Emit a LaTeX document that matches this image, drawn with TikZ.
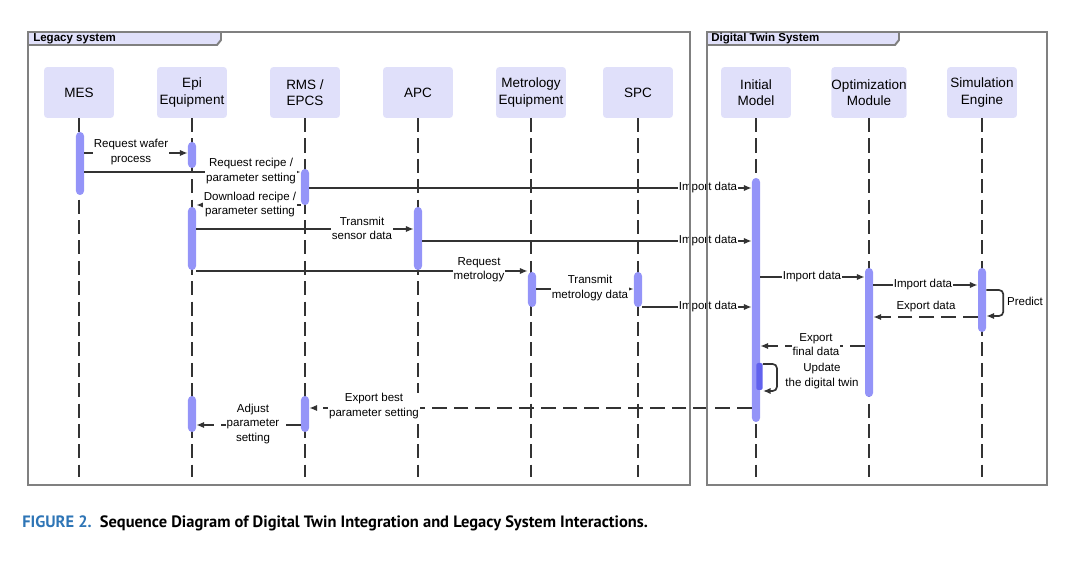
\documentclass[tikz,border=0pt]{standalone}
\usepackage{fontspec}
\setmainfont{Liberation Sans}
\newfontfamily\capfont{PT Sans}
\usepackage{tikz}
\usetikzlibrary{positioning,calc,arrows.meta,fit}
\usepackage{xcolor}
\definecolor{headfill}{RGB}{224,224,250}
\definecolor{barfill}{RGB}{148,148,248}
\definecolor{bardark}{RGB}{98,98,238}
\definecolor{linegray}{RGB}{51,51,51}
\definecolor{framegray}{RGB}{128,128,128}
\definecolor{capblue}{RGB}{46,117,182}

\begin{document}
\begin{tikzpicture}[x=0.025cm,y=-0.025cm,
    head/.style={fill=headfill,rounded corners=2pt,minimum width=49.5pt,minimum height=36pt,
        inner sep=0pt,align=center,font=\fontsize{9.6}{11.5}\selectfont},
    life/.style={draw=linegray,line width=1.2pt,dash pattern=on 10pt off 4.5pt},
    bar/.style={fill=barfill,inner sep=0pt,minimum width=5.7pt,rounded corners=2.8pt},
    msg/.style={draw=linegray,line width=1.2pt,-{Latex[length=5.5pt,width=4.5pt]}},
    ret/.style={msg,dash pattern=on 10.5pt off 5pt},
    lbl/.style={fill=white,inner sep=0.6pt,align=center,font=\fontsize{8.2}{10}\selectfont},
    frame/.style={draw=framegray,line width=1.4pt},
    tabtitle/.style={anchor=west,inner sep=0pt,font=\bfseries\fontsize{8.2}{10}\selectfont}]
\useasboundingbox (0,0) rectangle (1080,570);

\node (mes) [head] at (79,92.5) {MES};
\node (epi) [head] at (192,92.5) {Epi\\Equipment};
\node (rms) [head] at (305,92.5) {RMS /\\EPCS};
\node (apc) [head] at (418,92.5) {APC};
\node (met) [head] at (531,92.5) {Metrology\\Equipment};
\node (spc) [head] at (638,92.5) {SPC};
\node (ini) [head] at (756,92.5) {Initial\\Model};
\node (opt) [head] at (869,92.5) {Optimization\\Module};
\node (sim) [head] at (982,92.5) {Simulation\\Engine};

\foreach \n in {mes,epi,rms,apc,met,spc,ini,opt,sim}
    \draw[life] (\n.south) -- (\n.south |- 0,477);

\node (mes1) [bar,fit={(80,132) (80,195)}] {};
\node (epi1) [bar,fit={(192,142) (192,168)}] {};
\node (rms1) [bar,fit={(305,169) (305,205)}] {};
\node (epi2) [bar,fit={(192,207) (192,270)}] {};
\node (apc1) [bar,fit={(418,207) (418,270)}] {};
\node (met1) [bar,fit={(532,272) (532,307)}] {};
\node (spc1) [bar,fit={(638,272) (638,307)}] {};
\node (ini1) [bar,fit={(756,178) (756,422)}] {};
\node (opt1) [bar,fit={(869,268) (869,397)}] {};
\node (sim1) [bar,fit={(982,268) (982,332)}] {};
\node (epi3) [bar,fit={(192,396) (192,432)}] {};
\node (rms3) [bar,fit={(305,396) (305,432)}] {};
\node (upd) [bar,fill=bardark,minimum width=4.5pt,rounded corners=1.5pt,fit={(759.5,363) (759.5,390)}] {};

\draw[msg] (mes1.east |- 0,153) -- (epi1.west |- 0,153);
\draw[msg] (mes1.east |- 0,172) -- (rms1.west |- 0,172);
\draw[msg] (rms1.east |- 0,188) -- (ini1.west |- 0,188);
\draw[msg] (rms1.west |- 0,205) -- (epi2.east |- 0,205);
\draw[msg] (epi2.east |- 0,229) -- (apc1.west |- 0,229);
\draw[msg] (apc1.east |- 0,241) -- (ini1.west |- 0,241);
\draw[msg] (epi2.east |- 0,271) -- (met1.west |- 0,271);
\draw[msg] (met1.east |- 0,289) -- (spc1.west |- 0,289);
\draw[msg] (spc1.east |- 0,307) -- (ini1.west |- 0,307);
\draw[msg] (ini1.east |- 0,277) -- (opt1.west |- 0,277);
\draw[msg] (opt1.east |- 0,285) -- (sim1.west |- 0,285);
\draw[msg,rounded corners=3pt] (sim1.east |- 0,290) -- ++(17,0) |- (sim1.east |- 0,316);
\draw[ret] (sim1.west |- 0,317) -- (opt1.east |- 0,317);
\draw[ret] (opt1.west |- 0,346) -- (ini1.east |- 0,346);
\draw[msg,rounded corners=3pt] (upd.east |- 0,364) -- ++(14,0) |- (upd.east |- 0,391);
\draw[ret] (ini1.west |- 0,408) -- (rms3.east |- 0,408);
\draw[ret] (rms3.west |- 0,425) -- (epi3.east |- 0,425);

\node (l1) [lbl] at (131,152) {Request wafer\\process};
\node (l2) [lbl] at (251,171) {Request recipe /\\parameter setting};
\node (l3) [lbl] at (708,188) {Import data};
\node (l4) [lbl] at (250,204.5) {Download recipe /\\parameter setting};
\node (l5) [lbl] at (362,228) {Transmit\\sensor data};
\node (l6) [lbl] at (708,241) {Import data};
\node (l7) [lbl] at (479,270) {Request\\metrology};
\node (l8) [lbl] at (590,288) {Transmit\\metrology data};
\node (l9) [lbl] at (708,307) {Import data};
\node (l10) [lbl] at (812,277) {Import data};
\node (l11) [lbl] at (923,285) {Import data};
\node (l12) [lbl,fill=none] at (1025,301) {Predict};
\node (l13) [lbl] at (926,307) {Export data};
\node (l14) [lbl] at (816,344.5) {Export\\final data};
\node (l15) [lbl,fill=none] at (822,376) {Update\\the digital twin};
\node (l16) [lbl] at (374,406) {Export best\\parameter setting};
\node (l17) [lbl] at (253,424) {Adjust\\parameter\\setting};

\draw[frame] (28,32) rectangle (690,485);
\draw[frame,fill=headfill] (28,32) -- (221,32) -- (221,40) -- (217,45) -- (28,45) -- cycle;
\node (legacy) [tabtitle] at (33,38.5) {Legacy system};
\draw[frame] (707,32) rectangle (1047,485);
\draw[frame,fill=headfill] (707,32) -- (899,32) -- (899,40) -- (895,45) -- (707,45) -- cycle;
\node (twin) [tabtitle] at (711,38.5) {Digital Twin System};

\node (cap) [anchor=west,inner sep=0pt,font=\capfont\bfseries\fontsize{11.7}{14}\selectfont] at (22,523)
    {\textcolor{capblue}{FIGURE 2.}\enspace Sequence Diagram of Digital Twin Integration and Legacy System Interactions.};
\end{tikzpicture}
\end{document}
